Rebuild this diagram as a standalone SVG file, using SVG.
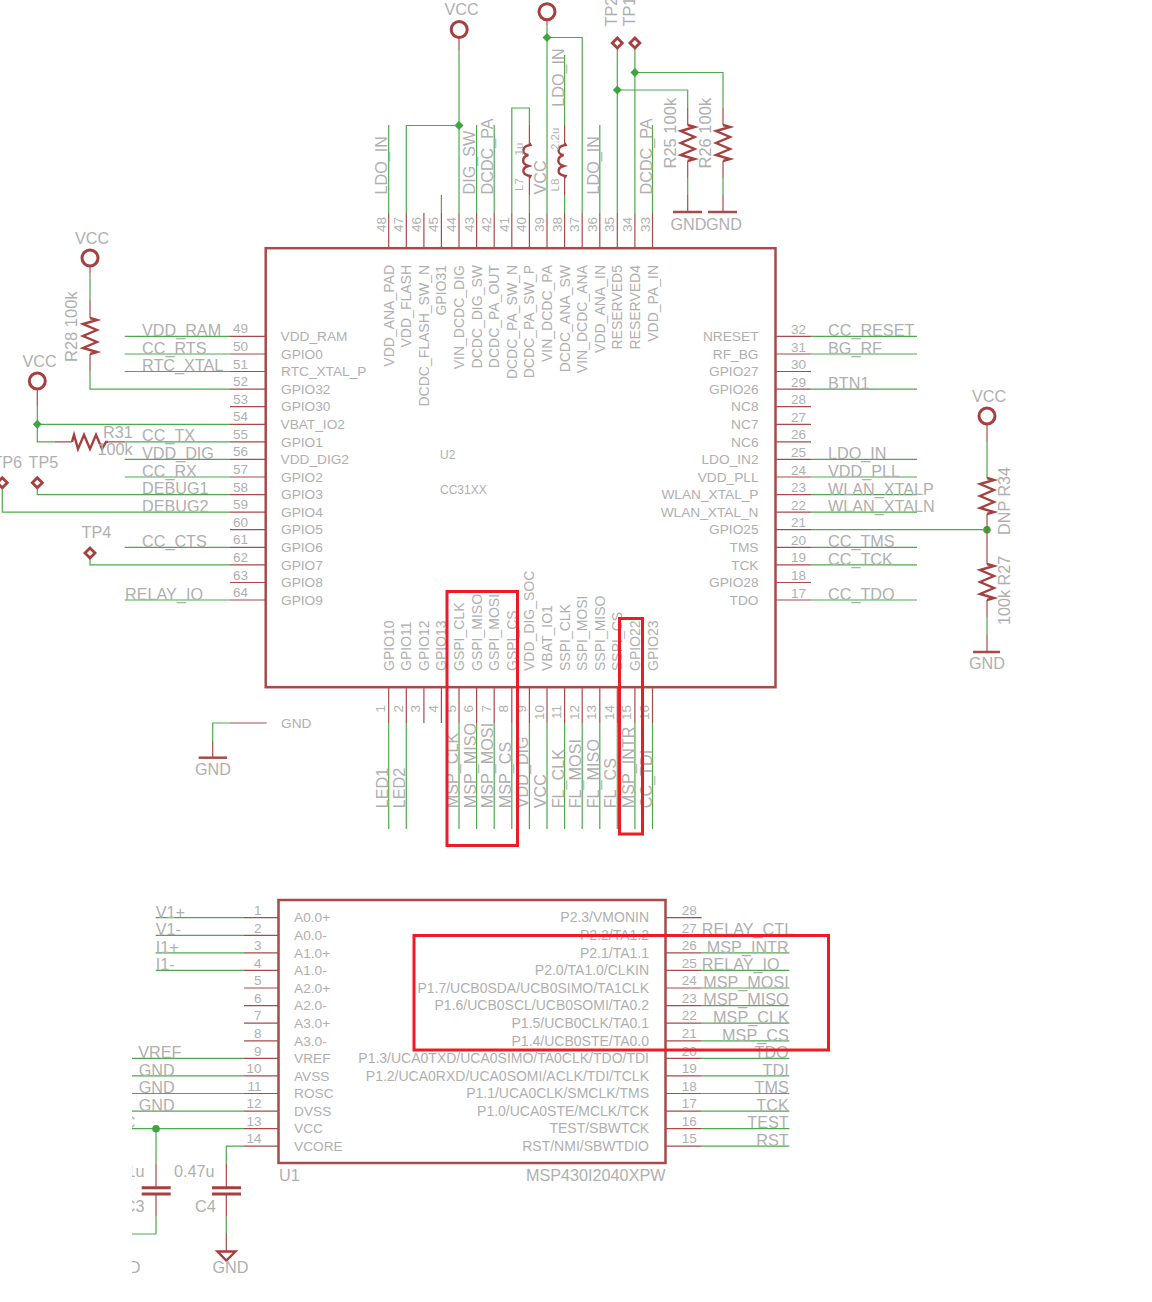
<svg xmlns="http://www.w3.org/2000/svg" width="1152" height="1302" viewBox="0 0 1152 1302">
<style>
text{font-family:"Liberation Sans",Arial,sans-serif;fill:#afafaf}
.t{font-size:16.2px}
.w{font-size:16.5px}
.p{font-size:13.7px}
.l{font-size:14px}
.n{font-size:13.5px}
.s{font-size:11.5px}
.e{text-anchor:end}
.g{fill:none;stroke:#4caa4c;stroke-width:1.2}
.r{fill:none;stroke:#a84a4a;stroke-width:1.2}
.b{fill:none;stroke:#a84a4a;stroke-width:2.5}
.y{fill:none;stroke:#a63f3f;stroke-width:2.4}
.d{fill:none;stroke:#a63f3f;stroke-width:2.8}
.o{fill:none;stroke:#a63f3f;stroke-width:3}
.j{fill:#3fa63f}
.m{fill:none;stroke:#ed1c24;stroke-width:3}
</style>
<defs>
<path id="rv" class="y" d="M0 0l7 2-14 4 14 6-14 6 14 6-14 6 14 4-7 2"/>
<path id="rh" class="y" d="M0 0l2-7 4 14 6-14 6 14 6-14 6 14 4-7 2 0"/>
<path id="ind" class="y" d="M0 0L1 2C-8 3-8 11-1 12C-8 14-8 21-1 23C-8 25-8 32 1 33L0 35"/>
<polygon id="tp" class="d" points="0,-5 5,0 0,5 -5,0"/>
<path id="jn" class="j" d="M0-4.5L4.5 0 0 4.5-4.5 0Z"/>
<clipPath id="crop"><rect x="132" y="1100" width="120" height="190"/></clipPath>
</defs>

<g id="connectors">
<path class="g" d="M388.7 125V213M406.3 213V125.5H459M441.4 195V213M459 50V213M476.6 125V213M494.2 125V213M511.8 213V108H529.4V125M529.4 195V213M547 25V213M564.6 55V125M564.6 195V213M547 37.5H582.2V213M599.8 125V213M617.3 49V213M634.9 49V213M652.5 125V213M617.3 90H687.7V108M687.7 178V195M634.9 72.5H723V108M723 178V195"/>
<path class="g" d="M124.7 336.4H230M124.7 354H230M124.7 371.5H230M90 273V300M90 371V389.1H230M37.3 406V441.9H55M37.3 424.3H230M125 441.9H230M124.7 459.4H230M124.7 477H230M37.3 488V494.6H230M2.3 488V512.2H230M124.7 547.3H230M90 559V564.9H230M124.7 600H230"/>
<path class="g" d="M811 336.4H917M811 354H917M811 389.1H917M811 459.4H917M811 477H917M811 494.6H917M811 512.2H917M811 529.7H987M811 547.3H917M811 564.9H917M811 600H917M987 442V477M987 617V635"/>
<path class="g" d="M388.7 723V829M406.3 723V829M459 723V829M476.6 723V829M494.2 723V829M511.8 723V829M529.4 723V829M547 723V829M564.6 723V829M582.2 723V829M599.8 723V829M617.3 723V829M634.9 723V829M652.5 723V829"/>
<path class="g" d="M212.7 741V723H230"/>
<path class="r" d="M230 723H266.7M212.7 741V757"/>
<path class="g" d="M155.7 917.7H244M155.7 935.3H244M155.7 952.9H244M155.7 970.4H244M132 1058.3H244M132 1075.9H244M132 1093.5H244M132 1111.1H244M132 1128.7H244M156 1128.7V1164M156 1216.7V1234H132M244 1146.2H226.3V1164M226.3 1216.7V1233"/>
<path class="g" d="M701.7 935.3H789.3M701.7 952.9H789.3M701.7 970.4H789.3M701.7 988H789.3M701.7 1005.6H789.3M701.7 1023.2H789.3M701.7 1040.8H789.3M701.7 1058.3H789.3M701.7 1075.9H789.3M701.7 1093.5H789.3M701.7 1111.1H789.3M701.7 1128.7H789.3M701.7 1146.2H789.3"/>
<use href="#jn" x="459" y="125.5"/>
<use href="#jn" x="547" y="37.5"/>
<use href="#jn" x="617.3" y="90"/>
<use href="#jn" x="634.9" y="72.5"/>
<use href="#jn" x="37.3" y="424.3"/>
<circle class="j" cx="987" cy="529.7" r="3.8"/>
<circle class="j" cx="156" cy="1128.7" r="3.8"/>
</g>

<g id="U2">
<rect class="b" x="265.7" y="248.2" width="509.8" height="439"/>
<path class="r" d="M388.7 213V248M406.3 213V248M423.9 213V248M441.4 213V248M459 213V248M476.6 213V248M494.2 213V248M511.8 213V248M529.4 213V248M547 213V248M564.6 213V248M582.2 213V248M599.8 213V248M617.3 213V248M634.9 213V248M652.5 213V248"/>
<path class="r" d="M230 336.4H265M230 354H265M230 371.5H265M230 389.1H265M230 406.7H265M230 424.3H265M230 441.9H265M230 459.4H265M230 477H265M230 494.6H265M230 512.2H265M230 529.7H265M230 547.3H265M230 564.9H265M230 582.5H265M230 600H265"/>
<path class="r" d="M776 336.4H811M776 354H811M776 371.5H811M776 389.1H811M776 406.7H811M776 424.3H811M776 441.9H811M776 459.4H811M776 477H811M776 494.6H811M776 512.2H811M776 529.7H811M776 547.3H811M776 564.9H811M776 582.5H811M776 600H811"/>
<path class="r" d="M388.7 688V723M406.3 688V723M423.9 688V723M441.4 688V723M459 688V723M476.6 688V723M494.2 688V723M511.8 688V723M529.4 688V723M547 688V723M564.6 688V723M582.2 688V723M599.8 688V723M617.3 688V723M634.9 688V723M652.5 688V723"/>
<g class="n e" transform="rotate(-90)">
<text x="-217" y="385.7">48</text><text x="-217" y="403.3">47</text><text x="-217" y="420.9">46</text><text x="-217" y="438.4">45</text><text x="-217" y="456">44</text><text x="-217" y="473.6">43</text><text x="-217" y="491.2">42</text><text x="-217" y="508.8">41</text><text x="-217" y="526.4">40</text><text x="-217" y="544">39</text><text x="-217" y="561.6">38</text><text x="-217" y="579.2">37</text><text x="-217" y="596.8">36</text><text x="-217" y="614.3">35</text><text x="-217" y="631.9">34</text><text x="-217" y="649.5">33</text>
<text x="-705" y="385.2">1</text><text x="-705" y="402.8">2</text><text x="-705" y="420.4">3</text><text x="-705" y="437.9">4</text><text x="-705" y="455.5">5</text><text x="-705" y="473.1">6</text><text x="-705" y="490.7">7</text><text x="-705" y="508.3">8</text><text x="-705" y="525.9">9</text><text x="-705" y="543.5">10</text><text x="-705" y="561.1">11</text><text x="-705" y="578.7">12</text><text x="-705" y="596.3">13</text><text x="-705" y="613.8">14</text><text x="-705" y="631.4">15</text><text x="-705" y="649">16</text>
</g>
<g class="l e" transform="rotate(-90)">
<text x="-265" y="393.7">VDD_ANA_PAD</text><text x="-265" y="411.3">VDD_FLASH</text><text x="-265" y="428.9">DCDC_FLASH_SW_N</text><text x="-265" y="446.4">GPIO31</text><text x="-265" y="464">VIN_DCDC_DIG</text><text x="-265" y="481.6">DCDC_DIG_SW</text><text x="-265" y="499.2">DCDC_PA_OUT</text><text x="-265" y="516.8">DCDC_PA_SW_N</text><text x="-265" y="534.4">DCDC_PA_SW_P</text><text x="-265" y="552">VIN_DCDC_PA</text><text x="-265" y="569.6">DCDC_ANA_SW</text><text x="-265" y="587.2">VIN_DCDC_ANA</text><text x="-265" y="604.8">VDD_ANA_IN</text><text x="-265" y="622.3">RESERVED5</text><text x="-265" y="639.9">RESERVED4</text><text x="-265" y="657.5">VDD_PA_IN</text>
</g>
<g class="l" transform="rotate(-90)">
<text x="-671" y="393.7">GPIO10</text><text x="-671" y="411.3">GPIO11</text><text x="-671" y="428.9">GPIO12</text><text x="-671" y="446.4">GPIO13</text><text x="-671" y="464">GSPI_CLK</text><text x="-671" y="481.6">GSPI_MISO</text><text x="-671" y="499.2">GSPI_MOSI</text><text x="-671" y="516.8">GSPI_CS</text><text x="-671" y="534.4">VDD_DIG_SOC</text><text x="-671" y="552">VBAT_IO1</text><text x="-671" y="569.6">SSPI_CLK</text><text x="-671" y="587.2">SSPI_MOSI</text><text x="-671" y="604.8">SSPI_MISO</text><text x="-671" y="622.3">SSPI_CS</text><text x="-671" y="639.9">GPIO22</text><text x="-671" y="657.5">GPIO23</text>
</g>
<g class="n e">
<text x="248" y="333.4">49</text><text x="248" y="351">50</text><text x="248" y="368.5">51</text><text x="248" y="386.1">52</text><text x="248" y="403.7">53</text><text x="248" y="421.3">54</text><text x="248" y="438.9">55</text><text x="248" y="456.4">56</text><text x="248" y="474">57</text><text x="248" y="491.6">58</text><text x="248" y="509.2">59</text><text x="248" y="526.7">60</text><text x="248" y="544.3">61</text><text x="248" y="561.9">62</text><text x="248" y="579.5">63</text><text x="248" y="597">64</text>
</g>
<g class="n">
<text x="791" y="333.9">32</text><text x="791" y="351.5">31</text><text x="791" y="369">30</text><text x="791" y="386.6">29</text><text x="791" y="404.2">28</text><text x="791" y="421.8">27</text><text x="791" y="439.4">26</text><text x="791" y="456.9">25</text><text x="791" y="474.5">24</text><text x="791" y="492.1">23</text><text x="791" y="509.7">22</text><text x="791" y="527.2">21</text><text x="791" y="544.8">20</text><text x="791" y="562.4">19</text><text x="791" y="580">18</text><text x="791" y="597.5">17</text>
</g>
<g class="p">
<text x="280.5" y="341">VDD_RAM</text><text x="281" y="358.6">GPIO0</text><text x="281" y="376.1">RTC_XTAL_P</text><text x="281" y="393.7">GPIO32</text><text x="281" y="411.3">GPIO30</text><text x="280.5" y="428.9">VBAT_IO2</text><text x="281" y="446.5">GPIO1</text><text x="280.5" y="464">VDD_DIG2</text><text x="281" y="481.6">GPIO2</text><text x="281" y="499.2">GPIO3</text><text x="281" y="516.8">GPIO4</text><text x="281" y="534.3">GPIO5</text><text x="281" y="551.9">GPIO6</text><text x="281" y="569.5">GPIO7</text><text x="281" y="587.1">GPIO8</text><text x="281" y="604.6">GPIO9</text>
</g>
<g class="p e">
<text x="758.5" y="341">NRESET</text><text x="758.5" y="358.6">RF_BG</text><text x="758.5" y="376.1">GPIO27</text><text x="758.5" y="393.7">GPIO26</text><text x="758.5" y="411.3">NC8</text><text x="758.5" y="428.9">NC7</text><text x="758.5" y="446.5">NC6</text><text x="758.5" y="464">LDO_IN2</text><text x="758.5" y="481.6">VDD_PLL</text><text x="758.5" y="499.2">WLAN_XTAL_P</text><text x="758.5" y="516.8">WLAN_XTAL_N</text><text x="758.5" y="534.3">GPIO25</text><text x="758.5" y="551.9">TMS</text><text x="758.5" y="569.5">TCK</text><text x="758.5" y="587.1">GPIO28</text><text x="758.5" y="604.6">TDO</text>
</g>
<text x="440" y="459" style="font-size:12px">U2</text>
<text x="440" y="494" style="font-size:12px">CC31XX</text>
</g>

<g id="U2-net-labels">
<g class="t" transform="rotate(-90)">
<text x="-194.5" y="387">LDO_IN</text><text x="-194.5" y="475">DIG_SW</text><text x="-194.5" y="493.3">DCDC_PA</text><text x="-194.5" y="546">VCC</text><text x="-106.7" y="564">LDO_IN</text><text x="-194.5" y="599.3">LDO_IN</text><text x="-194.5" y="651.7">DCDC_PA</text>
<text x="-808.3" y="387.7">LED1</text><text x="-808.3" y="405.3">LED2</text><text x="-808.3" y="458">MSP_CLK</text><text x="-808.3" y="475.6">MSP_MISO</text><text x="-808.3" y="493.2">MSP_MOSI</text><text x="-808.3" y="510.8">MSP_CS</text><text x="-808.3" y="528.4">VDD_DIG</text><text x="-808.3" y="546">VCC</text><text x="-808.3" y="563.6">FL_CLK</text><text x="-808.3" y="581.2">FL_MOSI</text><text x="-808.3" y="598.8">FL_MISO</text><text x="-808.3" y="616.3">FL_CS</text><text x="-808.3" y="633.9">MSP_INTR</text><text x="-808.3" y="651.5">CC_TDI</text>
</g>
<g class="t">
<text x="142" y="336">VDD_RAM</text><text x="142" y="354">CC_RTS</text><text x="142" y="371">RTC_XTAL</text><text x="142" y="441">CC_TX</text><text x="142" y="459">VDD_DIG</text><text x="142" y="476.5">CC_RX</text><text x="142" y="494">DEBUG1</text><text x="142" y="512">DEBUG2</text><text x="142" y="547">CC_CTS</text><text x="125" y="600">RELAY_IO</text>
<text x="828" y="336">CC_RESET</text><text x="828" y="354">BG_RF</text><text x="828" y="389">BTN1</text><text x="828" y="459">LDO_IN</text><text x="828" y="477">VDD_PLL</text><text x="828" y="494.5">WLAN_XTALP</text><text x="828" y="512">WLAN_XTALN</text><text x="828" y="547">CC_TMS</text><text x="828" y="565">CC_TCK</text><text x="828" y="600">CC_TDO</text>
</g>
</g>

<g id="VCC1"><circle class="o" cx="459.2" cy="29.5" r="8"/><path class="r" d="M459 38V50"/><text class="t" x="444.5" y="15">VCC</text></g>
<g id="VCC2"><circle class="o" cx="547" cy="11.7" r="8"/><path class="r" d="M547 20V25"/></g>
<g id="VCC3"><circle class="o" cx="90" cy="258" r="8"/><path class="r" d="M90 266V273"/><text class="t" x="75" y="244">VCC</text></g>
<g id="VCC4"><circle class="o" cx="37.3" cy="381" r="8"/><path class="r" d="M37.3 389V406"/><text class="t" x="22.5" y="367">VCC</text></g>
<g id="VCC5"><circle class="o" cx="987" cy="416" r="8"/><path class="r" d="M987 424V442"/><text class="t" x="972" y="402">VCC</text></g>

<g id="TP1"><use href="#tp" x="634.9" y="43"/><text class="t" transform="translate(635 26.5) rotate(-90)">TP1</text></g>
<g id="TP2"><use href="#tp" x="617.3" y="43"/><text class="t" transform="translate(617 26.5) rotate(-90)">TP2</text></g>
<g id="TP4"><use href="#tp" x="90" y="553"/><text class="t" x="81.5" y="538.3">TP4</text></g>
<g id="TP5"><use href="#tp" x="37.3" y="482.7"/><text class="t" x="28.5" y="468.3">TP5</text></g>
<g id="TP6"><use href="#tp" x="2.3" y="482.7"/><text class="t" x="-7.6" y="468.3">TP6</text></g>

<g id="L7"><path class="r" d="M529.4 125V143M529.4 178V195"/><use href="#ind" x="529.4" y="143"/><g class="s" transform="rotate(-90)"><text x="-191" y="523">L7</text><text x="-155.5" y="523">1u</text></g></g>
<g id="L8"><path class="r" d="M564.6 125V143M564.6 178V195"/><use href="#ind" x="564.6" y="143"/><g class="s" transform="rotate(-90)"><text x="-191.5" y="559">L8</text><text x="-150" y="559">2.2u</text></g></g>
<g id="R25"><path class="r" d="M687.7 108V125M687.7 161V178M687.7 195V212"/><use href="#rv" x="687.7" y="125"/><path class="b" d="M673 212H702"/><text class="w" transform="translate(676 168.5) rotate(-90)">R25 100k</text><text class="t" x="670.5" y="230">GND</text></g>
<g id="R26"><path class="r" d="M723 108V125M723 161V178M723 195V212"/><use href="#rv" x="723" y="125"/><path class="b" d="M708 212H737"/><text class="w" transform="translate(710.7 168.5) rotate(-90)">R26 100k</text><text class="t" x="706" y="230">GND</text></g>
<g id="R28"><path class="r" d="M90 300V318M90 354V371"/><use href="#rv" x="90" y="318"/><text class="w" transform="translate(77.3 362) rotate(-90)">R28 100k</text></g>
<g id="R31"><path class="r" d="M55 441.9H72M108 441.9H125"/><use href="#rh" x="72" y="441.9"/><text class="t" x="103" y="438">R31</text><text class="t" x="97.5" y="455">100k</text></g>
<g id="R34"><path class="r" d="M987 477V478M987 514V530"/><use href="#rv" x="987" y="478"/><text class="t" transform="translate(1010 535) rotate(-90)">DNP R34</text></g>
<g id="R27"><path class="r" d="M987 530V564M987 600V617M987 635V652"/><use href="#rv" x="987" y="564"/><path class="b" d="M973 652H1000"/><text class="t" transform="translate(1010 625) rotate(-90)">100k R27</text><text class="t" x="969" y="669">GND</text></g>
<g id="GND1"><path class="b" d="M198.7 757.7H227"/><text class="t" x="195" y="775">GND</text><text class="p" x="281" y="728">GND</text></g>

<g id="U1">
<rect class="b" x="278.5" y="900" width="387" height="263"/>
<path class="r" d="M244 917.7H278M244 935.3H278M244 952.9H278M244 970.4H278M244 988H278M244 1005.6H278M244 1023.2H278M244 1040.8H278M244 1058.3H278M244 1075.9H278M244 1093.5H278M244 1111.1H278M244 1128.7H278M244 1146.2H278"/>
<path class="r" d="M666 917.7H701.7M666 935.3H701.7M666 952.9H701.7M666 970.4H701.7M666 988H701.7M666 1005.6H701.7M666 1023.2H701.7M666 1040.8H701.7M666 1058.3H701.7M666 1075.9H701.7M666 1093.5H701.7M666 1111.1H701.7M666 1128.7H701.7M666 1146.2H701.7"/>
<g class="n e">
<text x="261.5" y="915">1</text><text x="261.5" y="932.5">2</text><text x="261.5" y="950">3</text><text x="261.5" y="967.5">4</text><text x="261.5" y="985">5</text><text x="261.5" y="1002.5">6</text><text x="261.5" y="1020">7</text><text x="261.5" y="1037.5">8</text><text x="261.5" y="1055.5">9</text><text x="261.5" y="1073">10</text><text x="261.5" y="1090.5">11</text><text x="261.5" y="1108">12</text><text x="261.5" y="1125.5">13</text><text x="261.5" y="1143">14</text>
</g>
<g class="n">
<text x="681.7" y="915">28</text><text x="681.7" y="932.5">27</text><text x="681.7" y="950">26</text><text x="681.7" y="967.5">25</text><text x="681.7" y="985">24</text><text x="681.7" y="1002.5">23</text><text x="681.7" y="1020">22</text><text x="681.7" y="1037.5">21</text><text x="681.7" y="1055.5">20</text><text x="681.7" y="1073">19</text><text x="681.7" y="1090.5">18</text><text x="681.7" y="1108">17</text><text x="681.7" y="1125.5">16</text><text x="681.7" y="1143">15</text>
</g>
<g class="p">
<text x="294" y="922.4">A0.0+</text><text x="294" y="940">A0.0-</text><text x="294" y="957.6">A1.0+</text><text x="294" y="975.1">A1.0-</text><text x="294" y="992.7">A2.0+</text><text x="294" y="1010.3">A2.0-</text><text x="294" y="1027.9">A3.0+</text><text x="294" y="1045.5">A3.0-</text><text x="294" y="1063">VREF</text><text x="294" y="1080.6">AVSS</text><text x="294" y="1098.2">ROSC</text><text x="294" y="1115.8">DVSS</text><text x="294" y="1133.4">VCC</text><text x="294" y="1150.9">VCORE</text>
</g>
<g class="l e">
<text x="649" y="922.4">P2.3/VMONIN</text><text x="649" y="940">P2.2/TA1.2</text><text x="649" y="957.6">P2.1/TA1.1</text><text x="649" y="975.1">P2.0/TA1.0/CLKIN</text><text x="649" y="992.7">P1.7/UCB0SDA/UCB0SIMO/TA1CLK</text><text x="649" y="1010.3">P1.6/UCB0SCL/UCB0SOMI/TA0.2</text><text x="649" y="1027.9">P1.5/UCB0CLK/TA0.1</text><text x="649" y="1045.5">P1.4/UCB0STE/TA0.0</text><text x="649" y="1063">P1.3/UCA0TXD/UCA0SIMO/TA0CLK/TDO/TDI</text><text x="649" y="1080.6">P1.2/UCA0RXD/UCA0SOMI/ACLK/TDI/TCLK</text><text x="649" y="1098.2">P1.1/UCA0CLK/SMCLK/TMS</text><text x="649" y="1115.8">P1.0/UCA0STE/MCLK/TCK</text><text x="649" y="1133.4">TEST/SBWTCK</text><text x="649" y="1150.9">RST/NMI/SBWTDIO</text>
</g>
<text class="t" x="279" y="1180.7">U1</text>
<text class="t e" x="665.5" y="1180.7">MSP430I2040XPW</text>
</g>

<g id="U1-net-labels" class="t">
<text x="155.7" y="917.5">V1+</text><text x="155.7" y="935">V1-</text><text x="155.7" y="952.5">I1+</text><text x="155.7" y="970">I1-</text>
<text x="138.3" y="1058">VREF</text><text x="138.7" y="1075.5">GND</text><text x="138.7" y="1093">GND</text><text x="138.7" y="1110.5">GND</text>
<text x="701.7" y="935">RELAY_CTL</text><text class="e" x="788.7" y="952.5">MSP_INTR</text><text x="701.7" y="970">RELAY_IO</text><text class="e" x="788.7" y="987.5">MSP_MOSI</text><text class="e" x="788.7" y="1005">MSP_MISO</text><text class="e" x="788.7" y="1023">MSP_CLK</text><text class="e" x="788.7" y="1040.5">MSP_CS</text><text class="e" x="788.7" y="1058">TDO</text><text class="e" x="788.7" y="1075.5">TDI</text><text class="e" x="788.7" y="1093">TMS</text><text class="e" x="788.7" y="1110.5">TCK</text><text class="e" x="788.7" y="1128">TEST</text><text class="e" x="788.7" y="1146">RST</text>
</g>

<g id="C3">
<path class="r" d="M156 1164V1187M156 1195V1216.7"/>
<path class="o" d="M141.7 1187.7H170.7M141.7 1194H170.7"/>
<g clip-path="url(#crop)" class="t"><text class="e" x="144.5" y="1177">1u</text><text class="e" x="144.5" y="1212">C3</text><text class="e" x="140.5" y="1273">GND</text><text class="e" x="135.5" y="1128">VCC</text></g>
</g>
<g id="C4">
<path class="r" d="M226.3 1164V1187M226.3 1195V1216.7M226.3 1233V1251"/>
<path class="o" d="M212 1187.7H241M212 1194H241"/>
<polygon class="y" points="217.5,1251.5 235.5,1251.5 226.3,1260.5"/>
<text class="t" x="174" y="1177.3">0.47u</text><text class="t" x="195" y="1212.3">C4</text><text class="t" x="212.5" y="1273">GND</text>
</g>

<g id="highlights">
<rect class="m" x="447" y="591.5" width="70.5" height="254"/>
<rect class="m" x="619.5" y="618.5" width="23" height="215.5"/>
<rect class="m" x="414" y="935.5" width="414.5" height="114.5"/>
</g>
</svg>
